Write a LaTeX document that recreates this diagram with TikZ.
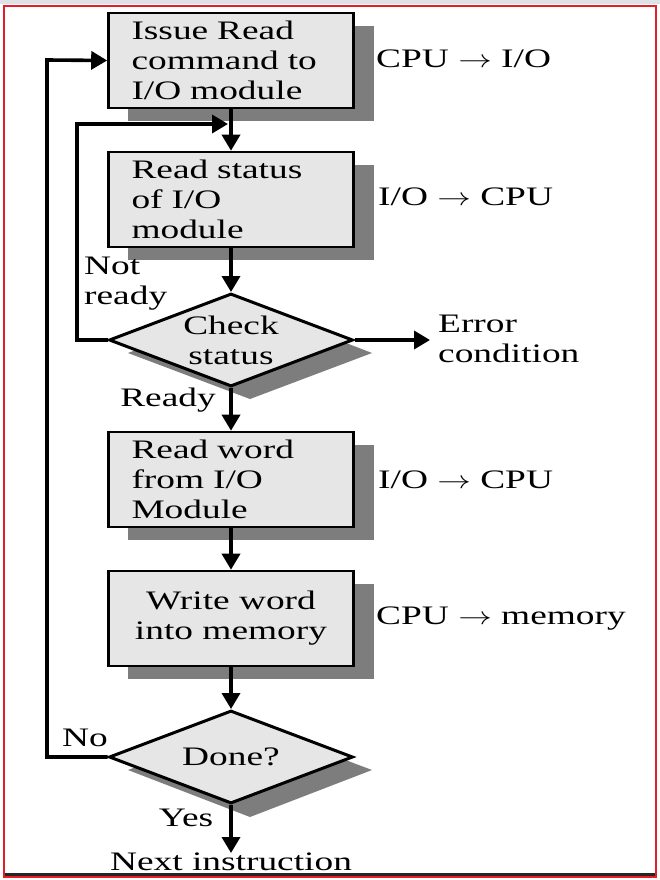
\documentclass[tikz,border=0pt]{standalone}
\usepackage{fontspec}
\setmainfont{Liberation Serif}[FakeStretch=1.4]
\usetikzlibrary{arrows.meta,shapes.geometric}
\definecolor{boxfill}{RGB}{230,230,230}
\definecolor{shadowgray}{RGB}{125,125,125}
\definecolor{framered}{RGB}{228,30,38}
\definecolor{topstrip}{RGB}{222,226,230}
\newcommand{\myarrow}{\scalebox{1.35}[1]{$\rightarrow$}}
\begin{document}
\begin{tikzpicture}[x=1pt,y=-1pt,
  every node/.style={font=\fontsize{26.7}{30}\selectfont},
  stepbox/.style={draw=black,line width=2.6pt,fill=boxfill,minimum width=245,minimum height=95,inner sep=0pt},
  leftbox/.style={stepbox,text width=199,align=left,inner xsep=23pt},
  decision/.style={diamond,draw=black,line width=3pt,fill=boxfill,aspect=2.62,minimum width=244,minimum height=93,inner sep=0pt,align=center},
  plain/.style={inner sep=0pt,align=left},
  flow/.style={line width=3.6pt,-{Triangle[width=18pt,length=16pt]}},
  boxshadow/.style={fill=shadowgray}
]
\useasboundingbox (0,0) rectangle (660,880);
\fill[white] (0,0) rectangle (660,880);
\fill[topstrip] (0,0) rectangle (660,4);
% shadows
\fill[boxshadow] (128,26) rectangle (374,121);
\fill[boxshadow] (128,165) rectangle (374,260);
\fill[boxshadow] (128,445) rectangle (374,540);
\fill[boxshadow] (128,584) rectangle (374,679);
\fill[boxshadow] (128,353) -- (250,306) -- (372,353) -- (250,399) -- cycle;
\fill[boxshadow] (128,770) -- (250,724) -- (372,770) -- (250,817) -- cycle;
% boxes
\node[leftbox] (b1) at (231,60.5) {\mbox{Issue Read}\\\mbox{command to}\\\mbox{I/O module}};
\node[leftbox] (b2) at (231,199.5) {\mbox{Read status}\\\mbox{of I/O}\\\mbox{module}};
\node[decision] (d1) at (231,340) {Check\\status};
\node[leftbox] (b3) at (231,479.5) {\mbox{Read word}\\\mbox{from I/O}\\\mbox{Module}};
\node[stepbox,align=center] (b4) at (231,618.5) {Write word\\into memory};
\node[decision] (d2) at (231,757) {Done?};
% side labels
\node[plain,anchor=west] (l1) at (376,59) {CPU \myarrow\ I/O};
\node[plain,anchor=west] (l2) at (378,197) {I/O \myarrow\ CPU};
\node[plain,anchor=west] (l3) at (378,480) {I/O \myarrow\ CPU};
\node[plain,anchor=west] (l4) at (376,619) {CPU \myarrow\ memory};
\node[plain,anchor=west] (err) at (430,339) {\hspace{8pt}Error\\\hspace{8pt}condition};
\node[plain,anchor=north west] (nr) at (84,257) {Not\\ready};
\node[plain,anchor=east] (rdy) at (216,400) {Ready};
\node[plain] (no) at (85,738) {No};
\node[plain] (yes) at (186,818) {Yes};
\node[inner sep=0pt,anchor=north] (next) at (231,853) {Next instruction};
% coordinates
\coordinate (c1) at (77,124);
\coordinate (c1e) at (228,124);
\coordinate (c2) at (47,60);
% connectors
\draw[flow] (b1.south) -- (b2.north);
\draw[flow] (b2.south) -- (d1.north);
\draw[flow] (d1.south) -- (b3.north);
\draw[flow] (b3.south) -- (b4.north);
\draw[flow] (b4.south) -- (d2.north);
\draw[flow] (d2.south) -- (next.north);
\draw[flow] (d1.east) -- (d1.east -| err.west);
\draw[flow] (d1.west) -| (c1) -- (c1e);
\draw[flow] (d2.west) -| (c2) -- (b1.west);
% frame
\fill[black!85] (3,873) rectangle (657,877);
\draw[framered,line width=2pt] (4,6) rectangle (656,877);
\end{tikzpicture}
\end{document}
